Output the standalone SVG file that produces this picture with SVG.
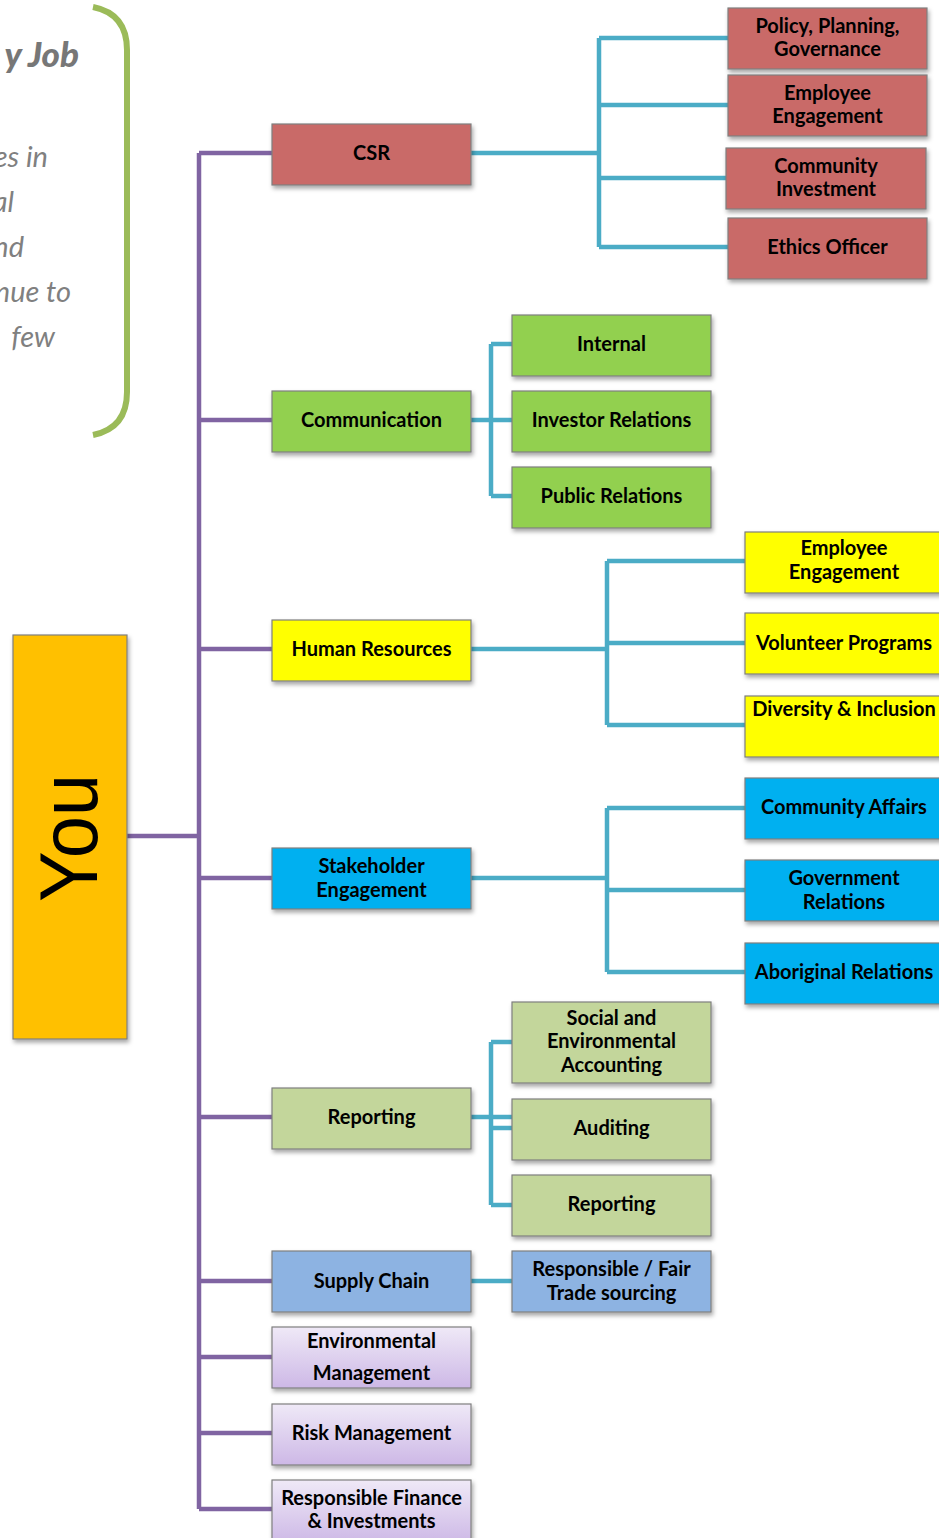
<svg xmlns="http://www.w3.org/2000/svg" width="939" height="1538" viewBox="0 0 939 1538">
<defs>
<filter id="sh" x="-10%" y="-10%" width="125%" height="135%">
<feDropShadow dx="1.5" dy="3" stdDeviation="2" flood-color="#000" flood-opacity="0.35"/>
</filter>
<linearGradient id="lav" x1="0" y1="0" x2="0" y2="1">
<stop offset="0" stop-color="#EFE9F7"/>
<stop offset="1" stop-color="#CDB8E6"/>
</linearGradient>
</defs>
<style>
.box{stroke:#7f7f7f;stroke-width:1.2;filter:url(#sh)}
.red{fill:#C96A68}
.grn{fill:#92D050}
.yel{fill:#FFFF00}
.blu{fill:#00B0F0}
.olv{fill:#C3D69B}
.sky{fill:#8DB3E2}
.lav{fill:url(#lav)}
.lbl{font-family:Lato,"Open Sans",sans-serif;font-weight:bold;font-size:20px;fill:#000;text-anchor:middle}
.side{font-family:Lato,"Open Sans",sans-serif;font-style:italic;font-size:29px;fill:#808080;text-anchor:end}
.title{font-family:Lato,"Open Sans",sans-serif;font-style:italic;font-weight:900;font-size:35px;fill:#777;text-anchor:end}
.pur{stroke:#8064A2;stroke-width:4.5;fill:none}
.tea{stroke:#4BACC6;stroke-width:4.5;fill:none}
</style>
<rect width="939" height="1538" fill="#fff"/>

<g id="sidetext">
<text class="title" x="79" y="67">y Job</text>
<text class="side" x="48" y="167">es in</text>
<text class="side" x="14" y="212">al</text>
<text class="side" x="24" y="257">nd</text>
<text class="side" x="71" y="302">nue to</text>
<text class="side" x="55" y="347">few</text>
<path d="M93,7 C118,12 127,28 127,50 L127,392 C127,414 118,430 93,435" fill="none" stroke="#9BBB59" stroke-width="6"/>
</g>

<g id="connectors">
<path class="pur" d="M127,836 H199 M199,153 V1509 M199,153 H272 M199,420 H272 M199,649 H272 M199,878 H272 M199,1117 H272 M199,1281 H272 M199,1357 H272 M199,1433 H272 M199,1509 H272"/>
<path class="tea" d="M471,153 H599 M599,38 V247 M599,38 H728 M599,105 H728 M599,178 H726 M599,247 H728"/>
<path class="tea" d="M471,420 H512 M491,344 V496 M491,344 H512 M491,496 H512"/>
<path class="tea" d="M471,649 H607 M607,561 V725 M607,561 H745 M607,643 H745 M607,725 H745"/>
<path class="tea" d="M471,878 H607 M607,808 V972 M607,808 H745 M607,890 H745 M607,972 H745"/>
<path class="tea" d="M471,1117 H512 M491,1042 V1205 M491,1042 H512 M491,1128 H512 M491,1205 H512"/>
<path class="tea" d="M471,1281 H512"/>
</g>

<g id="you">
<rect class="box" x="13" y="635" width="114" height="404" fill="#FFC000"/>
<text transform="translate(97,838) rotate(-90)" text-anchor="middle" font-family="'Liberation Sans',sans-serif" font-size="82" textLength="128" lengthAdjust="spacingAndGlyphs" fill="#000">You</text>
</g>

<g id="csr"><rect class="box red" x="272" y="124" width="199" height="61"/><text class="lbl" x="371.5" y="160">CSR</text></g>
<g id="policy"><rect class="box red" x="728" y="8" width="199" height="61"/><text class="lbl" x="827.5" y="33">Policy, Planning,</text><text class="lbl" x="827.5" y="56">Governance</text></g>
<g id="csr-emp"><rect class="box red" x="728" y="75" width="199" height="61"/><text class="lbl" x="827.5" y="100">Employee</text><text class="lbl" x="827.5" y="123">Engagement</text></g>
<g id="community-inv"><rect class="box red" x="726" y="148" width="200" height="61"/><text class="lbl" x="826" y="173">Community</text><text class="lbl" x="826" y="196">Investment</text></g>
<g id="ethics"><rect class="box red" x="728" y="218" width="199" height="61"/><text class="lbl" x="827.5" y="254">Ethics Officer</text></g>

<g id="communication"><rect class="box grn" x="272" y="391" width="199" height="61"/><text class="lbl" x="371.5" y="427">Communication</text></g>
<g id="internal"><rect class="box grn" x="512" y="315" width="199" height="61"/><text class="lbl" x="611.5" y="351">Internal</text></g>
<g id="investor"><rect class="box grn" x="512" y="391" width="199" height="61"/><text class="lbl" x="611.5" y="427">Investor Relations</text></g>
<g id="public"><rect class="box grn" x="512" y="467" width="199" height="61"/><text class="lbl" x="611.5" y="503">Public Relations</text></g>

<g id="hr"><rect class="box yel" x="272" y="620" width="199" height="61"/><text class="lbl" x="371.5" y="656">Human Resources</text></g>
<g id="hr-emp"><rect class="box yel" x="745" y="532" width="200" height="61"/><text class="lbl" x="844" y="555">Employee</text><text class="lbl" x="844" y="579">Engagement</text></g>
<g id="volunteer"><rect class="box yel" x="745" y="613" width="200" height="61"/><text class="lbl" x="844" y="650">Volunteer Programs</text></g>
<g id="diversity"><rect class="box yel" x="745" y="696" width="200" height="61"/><text class="lbl" x="844" y="716">Diversity &amp; Inclusion</text></g>

<g id="stakeholder"><rect class="box blu" x="272" y="848" width="199" height="61"/><text class="lbl" x="371.5" y="873">Stakeholder</text><text class="lbl" x="371.5" y="897">Engagement</text></g>
<g id="community-aff"><rect class="box blu" x="745" y="778" width="200" height="61"/><text class="lbl" x="844" y="814">Community Affairs</text></g>
<g id="government"><rect class="box blu" x="745" y="860" width="200" height="61"/><text class="lbl" x="844" y="885">Government</text><text class="lbl" x="844" y="909">Relations</text></g>
<g id="aboriginal"><rect class="box blu" x="745" y="943" width="200" height="61"/><text class="lbl" x="844" y="979">Aboriginal Relations</text></g>

<g id="reporting"><rect class="box olv" x="272" y="1088" width="199" height="61"/><text class="lbl" x="371.5" y="1124">Reporting</text></g>
<g id="social-env"><rect class="box olv" x="512" y="1002" width="199" height="81"/><text class="lbl" x="611.5" y="1025">Social  and</text><text class="lbl" x="611.5" y="1048">Environmental</text><text class="lbl" x="611.5" y="1072">Accounting</text></g>
<g id="auditing"><rect class="box olv" x="512" y="1099" width="199" height="61"/><text class="lbl" x="611.5" y="1135">Auditing</text></g>
<g id="reporting2"><rect class="box olv" x="512" y="1175" width="199" height="61"/><text class="lbl" x="611.5" y="1211">Reporting</text></g>

<g id="supply"><rect class="box sky" x="272" y="1251" width="199" height="61"/><text class="lbl" x="371.5" y="1288">Supply Chain</text></g>
<g id="fairtrade"><rect class="box sky" x="512" y="1251" width="199" height="61"/><text class="lbl" x="611.5" y="1276">Responsible / Fair</text><text class="lbl" x="611.5" y="1300">Trade sourcing</text></g>

<g id="envmgmt"><rect class="box lav" x="272" y="1327" width="199" height="61"/><text class="lbl" x="371.5" y="1348">Environmental</text><text class="lbl" x="371.5" y="1380">Management</text></g>
<g id="risk"><rect class="box lav" x="272" y="1404" width="199" height="61"/><text class="lbl" x="371.5" y="1440">Risk Management</text></g>
<g id="finance"><rect class="box lav" x="272" y="1480" width="199" height="64"/><text class="lbl" x="371.5" y="1505">Responsible Finance</text><text class="lbl" x="371.5" y="1528">&amp; Investments</text></g>
</svg>
